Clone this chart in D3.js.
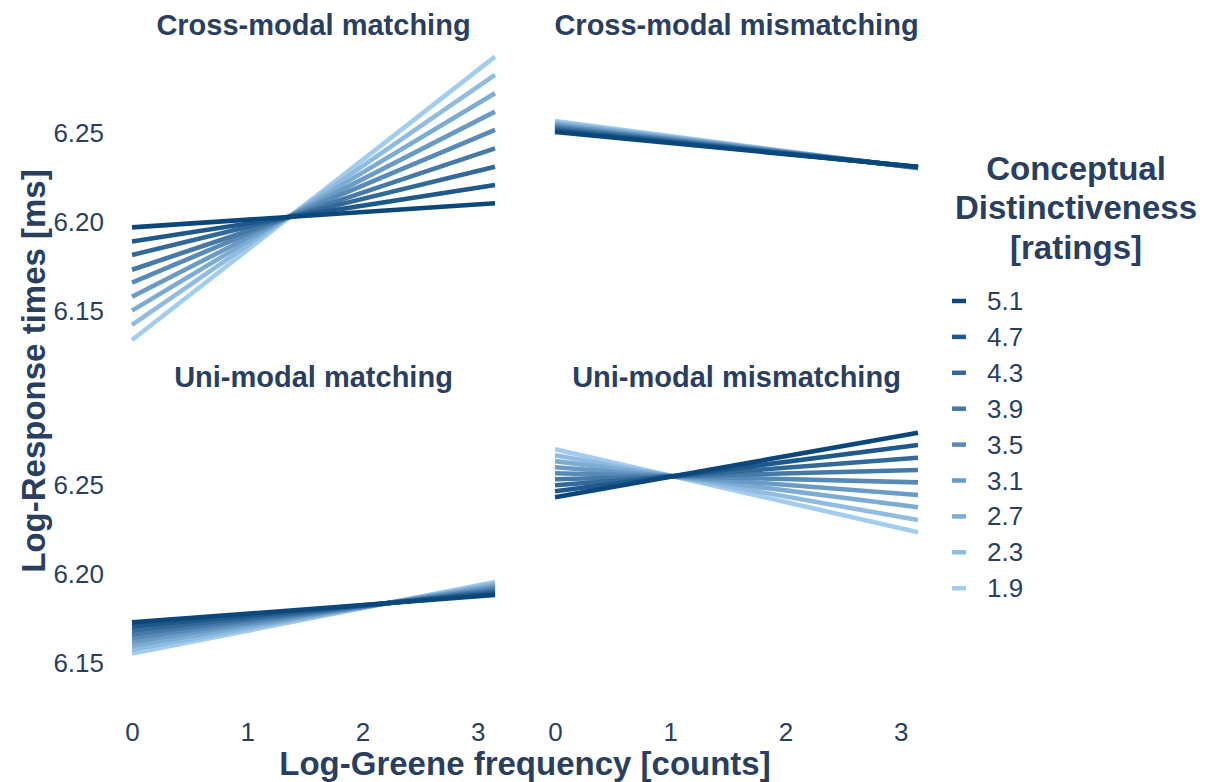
<!DOCTYPE html>
<html>
<head>
<meta charset="utf-8">
<script src="https://cdn.jsdelivr.net/npm/d3@7/dist/d3.min.js"></script>
<style>
  html, body { margin: 0; padding: 0; background: #fff; }
  svg text { font-family: "Liberation Sans", Arial, sans-serif; fill: #2a3f5f; }
</style>
</head>
<body>
<svg id="chart" width="1207" height="782"></svg>
<script>
// ---------------- data ----------------
const ratings = [5.1, 4.7, 4.3, 3.9, 3.5, 3.1, 2.7, 2.3, 1.9];
const xStart = 0;
const xEnd = 3.15;
const panelTitles = ["Cross-modal matching", "Cross-modal mismatching", "Uni-modal matching", "Uni-modal mismatching"];

// predicted log-RT at x = xStart and x = xEnd, one value per rating (5.1 ... 1.9)
const crossMatchStart    = [6.1970, 6.1890, 6.1815, 6.1732, 6.1660, 6.1580, 6.1502, 6.1422, 6.1337];
const crossMatchEnd      = [6.2105, 6.2208, 6.2311, 6.2414, 6.2517, 6.2620, 6.2723, 6.2826, 6.2929];
const crossMismatchStart = [6.2506, 6.2514, 6.2521, 6.2529, 6.2537, 6.2544, 6.2552, 6.2559, 6.2567];
const crossMismatchEnd   = [6.2310, 6.2309, 6.2308, 6.2307, 6.2306, 6.2305, 6.2304, 6.2303, 6.2302];
const uniMatchStart      = [6.1728, 6.1706, 6.1684, 6.1662, 6.1640, 6.1619, 6.1597, 6.1575, 6.1553];
const uniMatchEnd        = [6.1882, 6.1891, 6.1900, 6.1909, 6.1918, 6.1928, 6.1937, 6.1946, 6.1955];
const uniMismatchStart   = [6.2431, 6.2465, 6.2499, 6.2532, 6.2566, 6.2600, 6.2634, 6.2667, 6.2701];
const uniMismatchEnd     = [6.2794, 6.2725, 6.2653, 6.2584, 6.2515, 6.2444, 6.2375, 6.2303, 6.2234];

const yTicks = [6.15, 6.20, 6.25];
const xTicks = [0, 1, 2, 3];
const yDomain = [6.13, 6.30];

const legendTitle = ["Conceptual", "Distinctiveness", "[ratings]"];
const xTitle = "Log-Greene frequency [counts]";
const yTitle = "Log-Response times [ms]";

// ---------------- layout ----------------
const svg = d3.select("#chart");
const colX = [[132, 495], [555, 918]];
const rowY = [[44, 346.6], [396, 698.6]];

const color = d3.scaleLinear()
  .domain([d3.min(ratings), d3.max(ratings)])
  .range(["#a3cdef", "#0c477c"])
  .interpolate(d3.interpolateRgb);

const panels = [
  { title: panelTitles[0], start: crossMatchStart, end: crossMatchEnd, col: 0, row: 0 },
  { title: panelTitles[1], start: crossMismatchStart, end: crossMismatchEnd, col: 1, row: 0 },
  { title: panelTitles[2], start: uniMatchStart, end: uniMatchEnd, col: 0, row: 1 },
  { title: panelTitles[3], start: uniMismatchStart, end: uniMismatchEnd, col: 1, row: 1 }
];

const line = (xs, ys) => d3.line().x(d => xs(d[0])).y(d => ys(d[1]));

panels.forEach(p => {
  const xs = d3.scaleLinear().domain([xStart, xEnd]).range(colX[p.col]);
  const ys = d3.scaleLinear().domain(yDomain).range([rowY[p.row][1], rowY[p.row][0]]);
  const g = svg.append("g");

  // draw lightest first, darkest on top
  const order = d3.range(ratings.length).reverse();
  order.forEach(i => {
    g.append("path")
      .datum([[xStart, p.start[i]], [xEnd, p.end[i]]])
      .attr("d", line(xs, ys))
      .attr("fill", "none")
      .attr("stroke", color(ratings[i]))
      .attr("stroke-width", 4.6);
  });

  // title
  svg.append("text")
    .attr("x", (colX[p.col][0] + colX[p.col][1]) / 2)
    .attr("y", rowY[p.row][0] - 19)
    .attr("text-anchor", "middle")
    .attr("dominant-baseline", "central")
    .style("font-size", "29px")
    .style("font-weight", "bold")
    .text(p.title);

  if (p.col === 0) {
    const ax = svg.append("g")
      .attr("transform", `translate(${colX[0][0]},0)`)
      .call(d3.axisLeft(ys).tickValues(yTicks).tickFormat(d3.format(".2f")).tickSize(0).tickPadding(28));
    ax.select(".domain").remove();
    ax.selectAll("text").style("font-size", "26px").attr("fill", "#2a3f5f");
  }
  if (p.row === 1) {
    const ax = svg.append("g")
      .attr("transform", `translate(0,${rowY[1][1]})`)
      .call(d3.axisBottom(xs).tickValues(xTicks).tickFormat(d3.format("d")).tickSize(0).tickPadding(24));
    ax.select(".domain").remove();
    ax.selectAll("text").style("font-size", "26px").attr("fill", "#2a3f5f");
  }
});

// axis titles
svg.append("text")
  .attr("x", 525).attr("y", 763)
  .attr("text-anchor", "middle").attr("dominant-baseline", "central")
  .style("font-size", "33px").style("font-weight", "bold")
  .text(xTitle);

svg.append("text")
  .attr("transform", "translate(33,371) rotate(-90)")
  .attr("text-anchor", "middle").attr("dominant-baseline", "central")
  .style("font-size", "33px").style("font-weight", "bold")
  .text(yTitle);

// legend
const lg = svg.append("g");
legendTitle.forEach((t, i) => {
  lg.append("text")
    .attr("x", 1076).attr("y", 168 + i * 39.5)
    .attr("text-anchor", "middle").attr("dominant-baseline", "central")
    .style("font-size", "33px").style("font-weight", "bold")
    .text(t);
});
ratings.forEach((r, i) => {
  const y = 301 + i * 35.9;
  lg.append("line")
    .attr("x1", 952).attr("x2", 966).attr("y1", y).attr("y2", y)
    .attr("stroke", color(r)).attr("stroke-width", 4.5);
  lg.append("text")
    .attr("x", 987).attr("y", y)
    .attr("dominant-baseline", "central")
    .style("font-size", "26px")
    .text(d3.format(".1f")(r));
});
</script>
</body>
</html>
